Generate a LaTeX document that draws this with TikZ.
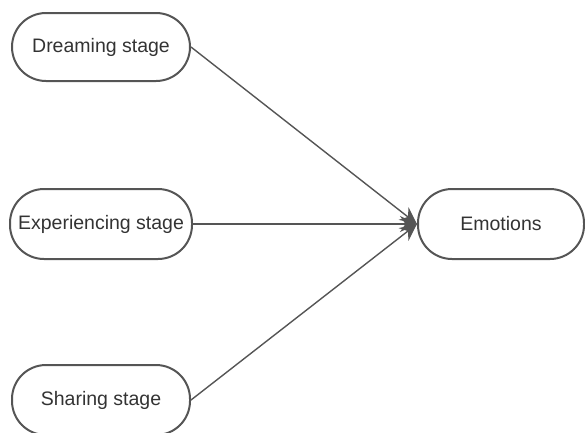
\documentclass[tikz,border=0pt]{standalone}
\usepackage{fontspec}
\setmainfont{Liberation Sans}
\usetikzlibrary{arrows.meta}
\definecolor{linegray}{HTML}{555555}
\definecolor{textgray}{HTML}{333333}
\tikzset{
  stagebox/.style={draw=linegray, line width=2pt, rectangle, rounded corners=34pt,
    minimum height=68pt, inner sep=0pt, text=textgray,
    font=\fontsize{19.5}{22}\selectfont},
  conn/.style={draw=linegray, line width=1.4pt,
    -{Stealth[length=17pt,width=16pt]}}
}
\begin{document}
\begin{tikzpicture}[x=1pt,y=-1pt]
\useasboundingbox (0,0) rectangle (585,432);
\node[stagebox, minimum width=178pt] (d) at (101,47) {Dreaming stage};
\node[stagebox, minimum width=182pt, minimum height=70pt] (x) at (101,224) {Experiencing stage};
\node[stagebox, minimum width=166pt, minimum height=70pt] (em) at (501,224) {Emotions};
\node[stagebox, minimum width=178pt, minimum height=70pt] (s) at (101,400) {Sharing stage};
\draw[conn] (d.east) -- (em.west);
\draw[conn] (x.east) -- (em.west);
\draw[conn] (s.east) -- (em.west);
\end{tikzpicture}
\end{document}
